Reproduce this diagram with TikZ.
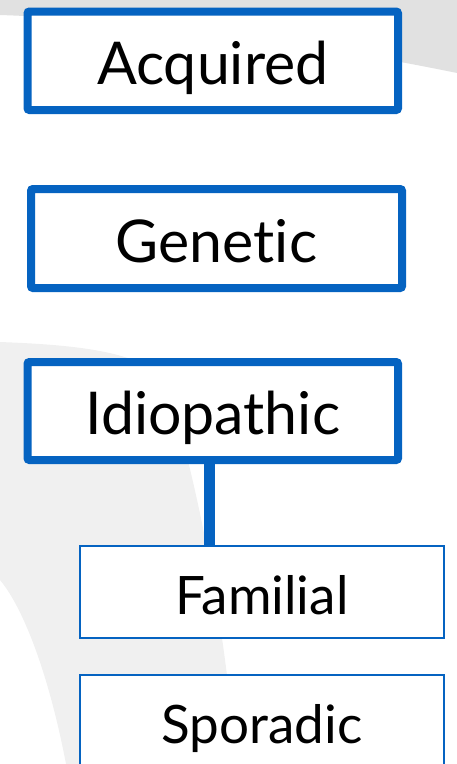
\documentclass[tikz,border=0pt]{standalone}
\usepackage{fontspec}
\setmainfont[Ligatures={NoCommon,NoRare}]{Lato}
\definecolor{boxblue}{RGB}{5,99,193}
\definecolor{bgtop}{RGB}{225,225,225}
\definecolor{bgband}{RGB}{240,240,240}
\tikzset{
  bigbox/.style={draw=boxblue, line width=8pt, fill=white, rounded corners=2pt,
    inner sep=0pt, text height=60pt, text depth=13pt, font=\fontsize{59}{60}\selectfont},
  smallbox/.style={draw=boxblue, line width=2pt, fill=white,
    inner sep=0pt, text height=60pt, text depth=16pt, font=\fontsize{53}{60}\selectfont},
  conn/.style={draw=boxblue, line width=11pt}
}
\begin{document}
\begin{tikzpicture}[x=1pt,y=-1pt]
\useasboundingbox (0,0) rectangle (457,764);
\clip (0,0) rectangle (457,764);
% background shapes
\fill[bgtop] (0,0) -- (457,0) -- (457,73) .. controls (320,45) and (150,20) .. (0,15) -- cycle;
\fill[bgband] (0,342) .. controls (80,345) and (140,352) .. (165,380)
  .. controls (195,470) and (225,620) .. (236,764) -- (66,764)
  .. controls (50,680) and (25,610) .. (0,580) -- cycle;
% boxes
\node[bigbox, minimum width=370.5pt, minimum height=98.5pt] (acq) at (212.75,60.75) {Acquired};
\node[bigbox, minimum width=371pt, minimum height=99pt] (gen) at (216.5,238.5) {Genetic};
\node[bigbox, minimum width=370.5pt, minimum height=98pt] (idio) at (212.75,411) {Idiopathic};
\node[smallbox, minimum width=364pt, minimum height=92pt] (fam) at (262,592) {Familial};
\node[smallbox, minimum width=364pt, minimum height=92pt] (spor) at (262,721) {Sporadic};
\coordinate (cx) at (209,0);
\draw[conn] (idio.south -| cx) -- (fam.north -| cx);
\end{tikzpicture}
\end{document}
